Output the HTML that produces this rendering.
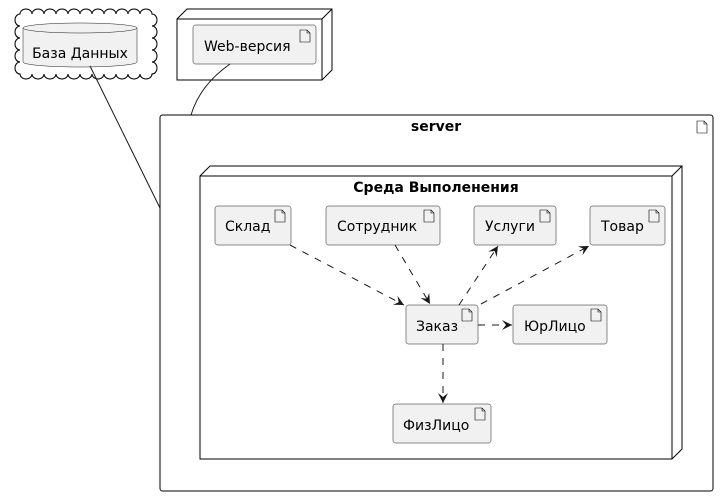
<!DOCTYPE html>
<html><head><meta charset="utf-8"><style>
html,body{margin:0;padding:0;background:#fff;}
svg{display:block;font-family:"DejaVu Sans","Liberation Sans",sans-serif;}
.a{fill:#F1F1F1;stroke:#181818;stroke-width:0.5;}
.t{font-size:14px;fill:#000;}
.d{fill:none;stroke:#181818;stroke-width:1;stroke-dasharray:7,7;}
.ic{fill:none;stroke:#000;stroke-width:0.6;}
</style></head><body>
<svg width="725" height="496" viewBox="0 0 725 496" xmlns="http://www.w3.org/2000/svg">
<defs>
<g id="doc"><path class="ic" d="M0,0 L7,0 L10,3 L10,12 L0,12 Z M7,0 L7,3 L10,3"/></g>
<marker id="ar" markerWidth="12" markerHeight="10" refX="10" refY="5" orient="auto" markerUnits="userSpaceOnUse">
<path d="M0,0 L10,5 L0,10 L4,5 Z" fill="#181818"/></marker>
</defs>
<path fill="#fff" stroke="#000" stroke-width="1" d="M20,14 a6,5 0 0,1 12,0 a6,5 0 0,1 12,0 a6,5 0 0,1 12,0 a6,5 0 0,1 12,0 a6,5 0 0,1 12,0 a6,5 0 0,1 12,0 a6,5 0 0,1 12,0 a6,5 0 0,1 12,0 a6,5 0 0,1 12,0 a6,5 0 0,1 12,0 a6,5 0 0,1 12,0
a5,6 0 0,1 0,12 a5,6 0 0,1 0,12 a5,6 0 0,1 0,12 a5,6 0 0,1 0,12 a5,6 0 0,1 0,12
a6,5 0 0,1 -12,0 a6,5 0 0,1 -12,0 a6,5 0 0,1 -12,0 a6,5 0 0,1 -12,0 a6,5 0 0,1 -12,0 a6,5 0 0,1 -12,0 a6,5 0 0,1 -12,0 a6,5 0 0,1 -12,0 a6,5 0 0,1 -12,0 a6,5 0 0,1 -12,0 a6,5 0 0,1 -12,0
a5,6 0 0,1 0,-12 a5,6 0 0,1 0,-12 a5,6 0 0,1 0,-12 a5,6 0 0,1 0,-12 a5,6 0 0,1 0,-12 Z"/>
<path class="a" d="M23,28 L23,62 A57,5 0 0,0 137,62 L137,28 A57,5 0 0,0 23,28 Z"/>
<path fill="none" stroke="#181818" stroke-width="0.5" d="M23,28 A57,5 0 0,0 137,28"/>
<text class="t" x="80" y="58" text-anchor="middle">База Данных</text>
<path fill="#fff" stroke="#000" stroke-width="1" d="M177,19 L187,9 L332,9 L332,70 L322,80 L177,80 Z M177,19 L322,19 L332,9 M322,19 L322,80"/>
<rect class="a" x="193" y="25" width="123" height="39" rx="2.5"/>
<text class="t" x="204" y="51">Web-версия</text>
<use href="#doc" x="300" y="30"/>
<line x1="90" y1="66" x2="160" y2="208" stroke="#181818" stroke-width="1"/>
<path d="M230,64 Q200,85 191,115" fill="none" stroke="#181818" stroke-width="1"/>
<rect x="160" y="115" width="553" height="376" rx="2.5" fill="#fff" stroke="#000" stroke-width="1"/>
<text x="436" y="131" text-anchor="middle" font-size="14" font-weight="bold">server</text>
<use href="#doc" x="697" y="121"/>
<path fill="#fff" stroke="#000" stroke-width="1" d="M200,176 L210,166 L682,166 L682,449 L672,459 L200,459 Z M200,176 L672,176 L682,166 M672,176 L672,459"/>
<text x="436" y="192" text-anchor="middle" font-size="14" font-weight="bold">Среда Выполенения</text>
<rect class="a" x="215" y="206" width="76" height="39" rx="2.5"/><text class="t" x="225" y="231">Склад</text><use href="#doc" x="275" y="210"/>
<rect class="a" x="326" y="206" width="114" height="39" rx="2.5"/><text class="t" x="337" y="231">Сотрудник</text><use href="#doc" x="424" y="210"/>
<rect class="a" x="474" y="206" width="82" height="39" rx="2.5"/><text class="t" x="485" y="231">Услуги</text><use href="#doc" x="540" y="210"/>
<rect class="a" x="590" y="206" width="75" height="39" rx="2.5"/><text class="t" x="601" y="231">Товар</text><use href="#doc" x="649" y="210"/>
<rect class="a" x="406" y="305" width="72" height="39" rx="2.5"/><text class="t" x="416" y="331">Заказ</text><use href="#doc" x="462" y="309"/>
<rect class="a" x="513" y="305" width="94" height="39" rx="2.5"/><text class="t" x="524" y="331">ЮрЛицо</text><use href="#doc" x="591" y="309"/>
<rect class="a" x="393" y="404" width="98" height="39" rx="2.5"/><text class="t" x="403" y="430">ФизЛицо</text><use href="#doc" x="475" y="408"/>
<line class="d" x1="290" y1="245" x2="404" y2="305" marker-end="url(#ar)"/>
<line class="d" x1="395" y1="245" x2="430" y2="304" marker-end="url(#ar)"/>
<line class="d" x1="459" y1="305" x2="498" y2="246" marker-end="url(#ar)"/>
<line class="d" x1="481" y1="304" x2="589" y2="246" marker-end="url(#ar)"/>
<line class="d" x1="478" y1="325" x2="512" y2="325" marker-end="url(#ar)"/>
<line class="d" x1="443" y1="344" x2="443" y2="403" marker-end="url(#ar)"/>
</svg>
</body></html>
